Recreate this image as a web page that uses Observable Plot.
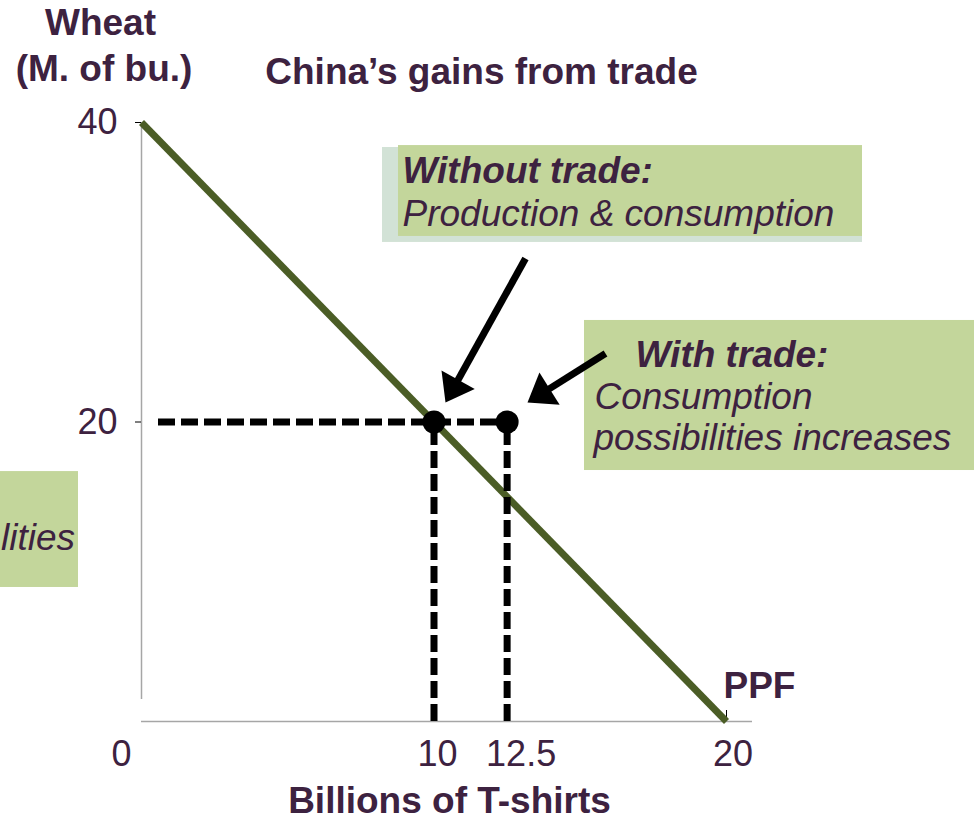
<!DOCTYPE html>
<html>
<head>
<meta charset="utf-8">
<script src="https://cdn.jsdelivr.net/npm/d3@7"></script>
<script src="https://cdn.jsdelivr.net/npm/@observablehq/plot@0.6"></script>
<style>
  html, body { margin: 0; padding: 0; background: #ffffff; overflow: hidden; }
  #chart svg { display: block; }
</style>
</head>
<body>
<div id="chart"></div>
<script>
// ---------------- data ----------------
const xTickValues = [0, 10, 12.5, 20];
const xTickLabels = ["0", "10", "12.5", "20"];
const yTickValues = [20, 40];
const yTickLabels = ["20", "40"];
const ppfTshirts = [0, 20];
const ppfWheat = [40, 0];
const pointNames = ["Without trade", "With trade"];
const pointTshirts = [10, 12.5];
const pointWheat = [20, 20];
const titleText = "China’s gains from trade";
const yLabelLines = ["Wheat", "(M. of bu.)"];
const xLabelText = "Billions of T-shirts";
const ppfLabel = "PPF";

// ---------------- layout / style ----------------
const W = 974, H = 822;
const margin = {left: 141, right: 248, top: 122, bottom: 101};
const purple = "#3d2240";
const olive = "#4b5d26";
const boxGreen = "#c3d69b";
const boxShadow = "#d2e2d6";
const axisGray = "#a6a6a6";
const font = "Liberation Sans, Arial, Helvetica, sans-serif";

const ppf = ppfTshirts.map((t, i) => ({tshirts: t, wheat: ppfWheat[i]}));
const points = pointTshirts.map((t, i) => ({name: pointNames[i], tshirts: t, wheat: pointWheat[i]}));

const xDomain = [0, 20], yDomain = [0, 40];
const sx = Plot.scale({x: {domain: xDomain, range: [margin.left, W - margin.right]}});
const sy = Plot.scale({y: {domain: yDomain, range: [H - margin.bottom, margin.top]}});

// annotation boxes (in chart units)
const boxes = [
  {x1: 8.239, x2: 24.65, y1: 31.99, y2: 38.33, fill: boxShadow},
  {x1: 8.786, x2: 24.65, y1: 32.39, y2: 38.46, fill: boxGreen},
  {x1: 15.145, x2: 28.6, y1: 16.76, y2: 26.78, fill: boxGreen},
  {x1: -5.2, x2: -2.154, y1: 8.95, y2: 16.69, fill: boxGreen}
];

// annotation arrows (tail -> tip, chart units)
const arrowAnchors = [
  {x1: 13.128, y1: 30.92, x2: 10.393, y2: 21.30},
  {x1: 15.863, y1: 24.57, x2: 13.197, y2: 21.30}
];
const arrows = arrowAnchors.map(a => {
  const px1 = sx.apply(a.x1), py1 = sy.apply(a.y1);
  const px2 = sx.apply(a.x2), py2 = sy.apply(a.y2);
  const dx = px2 - px1, dy = py2 - py1, len = Math.hypot(dx, dy);
  const back = 12;
  return {
    ...a,
    ex: sx.invert(px2 - dx / len * back),
    ey: sy.invert(py2 - dy / len * back),
    angle: Math.atan2(dx, -dy) * 180 / Math.PI
  };
});
const arrowHead = {
  draw(ctx) {
    ctx.moveTo(0, 0);
    ctx.lineTo(-19, 26);
    ctx.lineTo(19, 26);
    ctx.closePath();
  }
};

function label(text, x, y, opts = {}) {
  return Plot.text([{x, y, text}], {
    x: "x", y: "y", text: "text",
    fill: purple, fontFamily: font, fontSize: 37,
    lineAnchor: "bottom", ...opts
  });
}

const xTickOffsets = [-20, 3.5, 14, 6.5];

const marks = [
  // boxes
  Plot.rect(boxes, {x1: "x1", x2: "x2", y1: "y1", y2: "y2", fill: "fill"}),
  // axes lines
  Plot.ruleX([0], {y1: 0, y2: 40, insetTop: -22, stroke: axisGray, strokeWidth: 1.5}),
  Plot.ruleY([0], {x1: 0, x2: 20, insetRight: -26, stroke: axisGray, strokeWidth: 1.5}),
  // tick marks
  Plot.ruleY(yTickValues, {x1: 0, x2: 0, insetLeft: -6, stroke: "black", strokeWidth: 1}),
  Plot.ruleX([20], {y1: 0, y2: 0, insetTop: -11, stroke: "black", strokeWidth: 1}),
  // y tick labels
  Plot.text(yTickValues, {x: 0, y: d => d, text: (d, i) => yTickLabels[i], textAnchor: "end", dx: -24,
    fill: purple, fontFamily: font, fontSize: 36, lineAnchor: "middle"}),
  // x tick labels
  ...xTickValues.map((v, i) => Plot.text([v], {x: d => d, y: 0, text: () => xTickLabels[i], dx: xTickOffsets[i], dy: 44,
    fill: purple, fontFamily: font, fontSize: 36, lineAnchor: "bottom"})),
  // PPF
  Plot.line(ppf, {x: "tshirts", y: "wheat", stroke: olive, strokeWidth: 7, strokeLinecap: "butt"}),
  // dashed guides
  Plot.ruleY([points[1]], {y: "wheat", x1: 0, x2: "tshirts", insetLeft: 17, stroke: "black", strokeWidth: 7, strokeDasharray: "17,6"}),
  Plot.ruleX(points, {x: "tshirts", y1: 0, y2: "wheat", stroke: "black", strokeWidth: 7, strokeDasharray: "17,6"}),
  // points
  Plot.dot(points, {x: "tshirts", y: "wheat", r: 11.5, fill: "black"}),
  // arrows
  Plot.link(arrows, {x1: "x1", y1: "y1", x2: "ex", y2: "ey", stroke: "black", strokeWidth: 7, strokeLinecap: "butt"}),
  Plot.dot(arrows, {x: "x2", y: "y2", symbol: arrowHead, rotate: "angle", fill: "black", r: 10}),
  // texts
  label(yLabelLines[0], -1.402, 45.81, {fontWeight: "bold"}),
  label(yLabelLines[1], -1.282, 42.80, {fontWeight: "bold"}),
  label(titleText, 11.624, 42.54, {fontWeight: "bold"}),
  label("Without trade:", 8.923, 35.99, {fontWeight: "bold", fontStyle: "italic", textAnchor: "start"}),
  label("Production & consumption", 8.923, 33.06, {fontStyle: "italic", textAnchor: "start"}),
  label("With trade:", 16.889, 23.64, {fontWeight: "bold", fontStyle: "italic", textAnchor: "start"}),
  label("Consumption", 15.487, 20.90, {fontStyle: "italic", textAnchor: "start"}),
  label("possibilities increases", 15.453, 18.10, {fontStyle: "italic", textAnchor: "start"}),
  label("lities", -2.27, 11.42, {fontStyle: "italic", textAnchor: "end"}),
  label(ppfLabel, 19.897, 1.60, {fontWeight: "bold", textAnchor: "start"}),
  label(xLabelText, 10.53, -6.14, {fontWeight: "bold"})
];

const chart = Plot.plot({
  width: W,
  height: H,
  marginLeft: margin.left,
  marginRight: margin.right,
  marginTop: margin.top,
  marginBottom: margin.bottom,
  x: {domain: xDomain, axis: null},
  y: {domain: yDomain, axis: null},
  style: {background: "#ffffff", overflow: "hidden"},
  marks
});
document.getElementById("chart").appendChild(chart);
</script>
</body>
</html>
